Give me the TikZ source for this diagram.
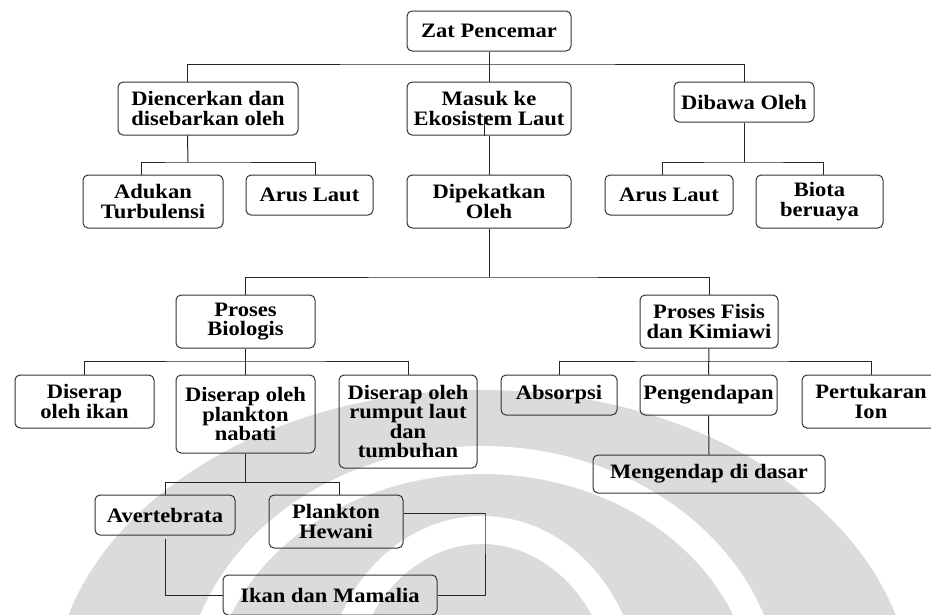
\documentclass[tikz,border=0pt]{standalone}
\usepackage{fontspec}
\setmainfont{Liberation Serif}[FakeStretch=1.1]
\tikzset{
  box/.style={draw=black!80, line width=1pt, rounded corners=5pt, align=center,
    inner sep=0pt, font=\fontsize{20.5}{19.5}\selectfont\bfseries},
  link/.style={draw=black!85, line width=1pt},
  logo/.style={fill=black!14},
  gap/.style={draw=white, line width=28pt}
}
\begin{document}
\begin{tikzpicture}[x=1pt, y=-1pt]
              \useasboundingbox (0,0) rectangle (931,614);
              \clip (0,0) rectangle (931,614);
              \fill[logo] (482,700) ellipse [x radius=430, y radius=310];
              \draw[gap] (482,700) ellipse [x radius=285, y radius=240];
              \draw[gap] (482,700) ellipse [x radius=145, y radius=170];
              \node[box, minimum width=164, minimum height=40] (zat) at (489,31) {Zat Pencemar};
              \node[box, minimum width=180, minimum height=53] (dil) at (208,108.5) {Diencerkan dan\\disebarkan oleh};
              \node[box, minimum width=164, minimum height=53] (mas) at (489,108.5) {Masuk ke\\Ekosistem Laut};
              \node[box, minimum width=140, minimum height=40] (dib) at (744,102) {Dibawa Oleh};
              \node[box, minimum width=140, minimum height=53] (adu) at (153,201.5) {Adukan\\Turbulensi};
              \node[box, minimum width=127, minimum height=40] (arl) at (309.5,195) {Arus Laut};
              \node[box, minimum width=164, minimum height=53] (dip) at (489,201.5) {Dipekatkan\\Oleh};
              \node[box, minimum width=128, minimum height=40] (arr) at (669,195) {Arus Laut};
              \node[box, minimum width=127, minimum height=53] (bta) at (819.5,201.5) {Biota\\beruaya};
              \node[box, minimum width=139, minimum height=53] (bio) at (245.5,321.5) {Proses\\Biologis};
              \node[box, minimum width=138, minimum height=53] (fis) at (709,321.5) {Proses Fisis\\dan Kimiawi};
              \node[box, minimum width=139, minimum height=53] (ika) at (84.5,401.5) {Diserap\\oleh ikan};
              \node[box, minimum width=139, minimum height=78] (nab) at (245.5,414) {Diserap oleh\\plankton\\nabati};
              \node[box, minimum width=138, minimum height=93] (rum) at (408,421.5) {Diserap oleh\\rumput laut\\dan\\tumbuhan};
              \node[box, minimum width=116, minimum height=40] (abs) at (559,395) {Absorpsi};
              \node[box, minimum width=137, minimum height=40] (pen) at (708.5,395) {Pengendapan};
              \node[box, minimum width=138, minimum height=53] (per) at (871,401.5) {Pertukaran\\Ion};
              \node[box, minimum width=232, minimum height=38] (men) at (709,474) {Mengendap di dasar};
              \node[box, minimum width=140, minimum height=40] (ave) at (165,515) {Avertebrata};
              \node[box, minimum width=134, minimum height=53] (hew) at (336,521.5) {Plankton\\Hewani};
              \node[box, minimum width=214, minimum height=40] (mam) at (330,595) {Ikan dan Mamalia};
              \coordinate (bus1) at (489,64);
              \coordinate (bus2) at (188,162);
              \coordinate (bus3) at (744,162);
              \coordinate (bus4) at (489,277);
              \coordinate (bus5) at (245.5,361);
              \coordinate (bus6) at (709,361);
              \coordinate (bus7) at (245.5,482);
              \coordinate (hewR) at (485,513);
              \draw[link] (zat.south) -- (mas.north);
              \draw[link] ([xshift=70pt]dil.north west) |- (bus1) -| (dib.north);
              \draw[link] ([xshift=70pt]dil.south west) -- (bus2);
              \draw[link] ([xshift=59pt]adu.north west) |- (bus2) -| ([xshift=70pt]arl.north west);
              \draw[link] (dib.south) -- (bus3);
              \draw[link] ([xshift=58pt]arr.north west) |- (bus3) -| ([xshift=68pt]bta.north west);
              \draw[link] ([xshift=-5pt]mas.south) -- ++(0,-20);
              \draw[link] (mas.south) -- (dip.north);
              \draw[link] (dip.south) -- (bus4);
              \draw[link] (bio.north) |- (bus4) -| (fis.north);
              \draw[link] (bio.south) -- (nab.north);
              \draw[link] (ika.north) |- (bus5) -| (rum.north);
              \draw[link] (fis.south) -- (pen.north);
              \draw[link] (abs.north) |- (bus6) -| (per.north);
              \draw[link] (pen.south) -- (men.north);
              \draw[link] (nab.south) -- (bus7);
              \draw[link] (ave.north) |- (bus7) -| ([xshift=3pt]hew.north);
              \draw[link] ([yshift=-3pt]ave.south) |- (mam.west);
              \draw[link] ([yshift=8pt]hew.east) -| (hewR) |- (mam.east);
\end{tikzpicture}
\end{document}
